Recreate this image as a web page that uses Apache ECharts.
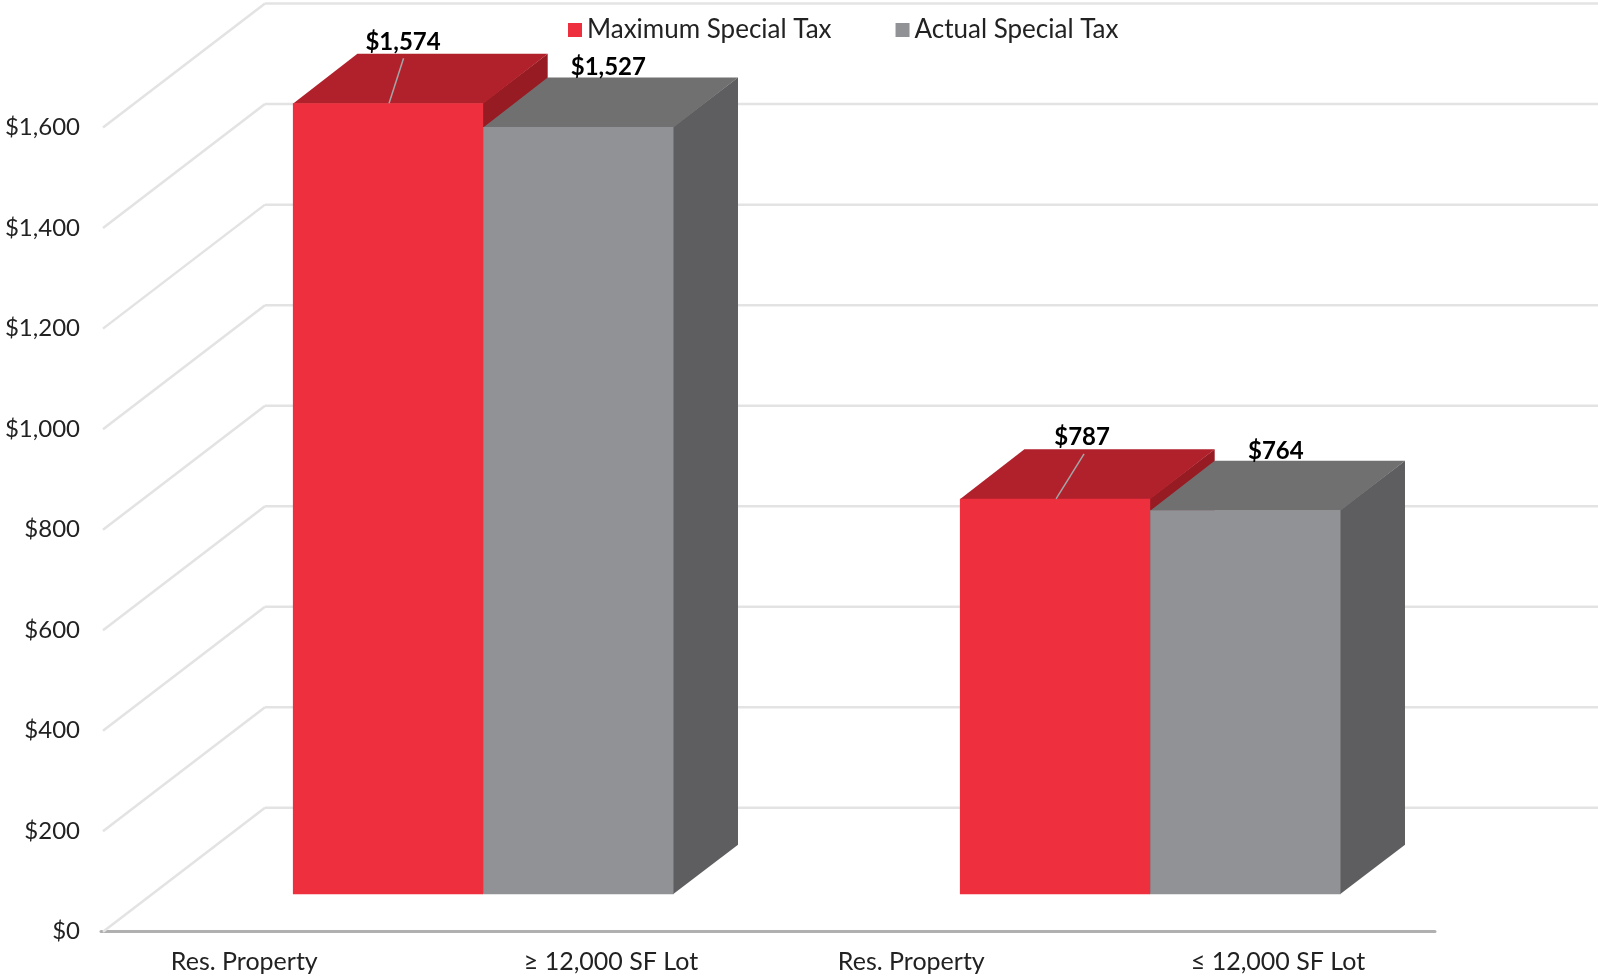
<!DOCTYPE html>
<html><head><meta charset="utf-8">
<style>html,body{margin:0;padding:0;background:#fff}#c{width:1598px;height:977px}</style>
<script src="https://cdn.jsdelivr.net/npm/echarts@6/dist/echarts.min.js"></script>
</head><body><div id="c"></div>
<script>
const categories = ['Res. Property|≥ 12,000 SF Lot', 'Res. Property|≤ 12,000 SF Lot'];
const seriesNames = ['Maximum Special Tax', 'Actual Special Tax'];
const maximumTax = [1574, 787];
const actualTax = [1527, 764];
const tickValues = [0, 200, 400, 600, 800, 1000, 1200, 1400, 1600];

const FONT = 'Lato, "Open Sans", sans-serif';
const WALL = {dx: 164, dy: -124};
const OFFSET = {dx: 48.7, dy: -37.4};
const DEPTH = {dx: 64.5, dy: -49.5};
const BAR_FRAC = 0.2853;
const COLORS = [
  {front: '#EE2F3D', top: '#B1212B', side: '#971B23', leader: [14.5, 28], lx: [15, 27], ly: -61.5},
  {front: '#919295', top: '#707071', side: '#5E5E60', lx: [30, 30.5], ly: -59.5}
];
const money = v => '$' + v.toLocaleString('en-US');

function poly(points, fill) {
  return {type: 'polygon', shape: {points}, style: {fill}};
}
function barRenderer(s) {
  return function (params, api) {
    const c = COLORS[s], i = api.value(0), v = api.value(1);
    const base = api.coord([i, 0]), top = api.coord([i, v]);
    const w = api.size([1, 0])[0] * BAR_FRAC;
    const x0 = base[0] + OFFSET.dx + (s === 0 ? -w : 0), x1 = x0 + w;
    const yb = base[1] + OFFSET.dy, yt = top[1] + OFFSET.dy;
    const dx = DEPTH.dx, dy = DEPTH.dy;
    const children = [
      poly([[x1 - 0.5, yt], [x1 + dx, yt + dy], [x1 + dx, yb + dy], [x1 - 0.5, yb]], c.side),
      poly([[x0, yt + 0.5], [x0 + dx, yt + dy], [x1 + dx, yt + dy], [x1, yt + 0.5]], c.top),
      poly([[x0, yt], [x1, yt], [x1, yb], [x0, yb]], c.front)
    ];
    const mid = (x0 + x1) / 2;
    if (c.leader) {
      children.push({type: 'line', shape: {x1: mid + 1, y1: yt, x2: mid + 1 + c.leader[i], y2: yt - 45},
        style: {stroke: '#A3A5A8', lineWidth: 1.5}});
    }
    children.push({type: 'text', style: {x: mid + c.lx[i], y: yt + c.ly, text: money(v),
      fill: '#000', font: 'bold 24px ' + FONT, align: 'center', verticalAlign: 'middle'}});
    return {type: 'group', children};
  };
}
function wallRenderer(params, api) {
  const v = api.value(0), r = params.coordSys;
  const y = api.coord([0, v])[1];
  const left = r.x, right = r.x + r.width;
  const line = (a, b, c, d) => ({type: 'line', shape: {x1: a, y1: b, x2: c, y2: d},
    style: {stroke: '#E3E3E3', lineWidth: 2.5}});
  return {type: 'group', children: [
    line(left + 2, y, left + WALL.dx, y + WALL.dy),
    line(left + WALL.dx, y + WALL.dy, right + WALL.dx, y + WALL.dy)
  ]};
}

const chart = echarts.init(document.getElementById('c'));
chart.setOption({
  animation: false,
  backgroundColor: '#fff',
  textStyle: {fontFamily: FONT},
  grid: {left: 101, right: 163, top: 127.6, bottom: 45.3, containLabel: false},
  legend: {
    data: seriesNames, left: 563, top: 12, icon: 'rect', itemWidth: 14, itemHeight: 14,
    itemGap: 64, itemStyle: {}, selectedMode: false,
    textStyle: {fontFamily: FONT, fontSize: 26, color: '#222'}
  },
  xAxis: {
    type: 'category', data: categories,
    axisLine: {lineStyle: {color: '#B0B0B0', width: 3}}, axisTick: {show: false},
    axisLabel: {
      margin: 18, interval: 0,
      formatter: v => { const p = v.split('|'); return '{t|' + p[0] + '}{g| }{t|' + p[1] + '}'; },
      rich: {t: {fontFamily: FONT, fontSize: 25, color: '#222'}, g: {width: 206, fontSize: 25}}
    }
  },
  yAxis: {
    type: 'value', min: 0, max: 1600, interval: 200,
    axisLine: {show: false}, axisTick: {show: false}, splitLine: {show: false},
    axisLabel: {margin: 21, fontFamily: FONT, fontSize: 24, color: '#222', formatter: money, padding: [3, 0, 0, 0]}
  },
  series: [
    {type: 'custom', name: 'wall', silent: true, z: 1, data: tickValues.map(v => [v]),
     encode: {y: 0}, renderItem: wallRenderer, clip: false},
    {type: 'custom', name: seriesNames[0], z: 2, itemStyle: {color: COLORS[0].front},
     data: maximumTax.map((v, i) => [i, v]), encode: {x: 0, y: 1}, renderItem: barRenderer(0), clip: false},
    {type: 'custom', name: seriesNames[1], z: 3, itemStyle: {color: COLORS[1].front},
     data: actualTax.map((v, i) => [i, v]), encode: {x: 0, y: 1}, renderItem: barRenderer(1), clip: false}
  ]
});
</script></body></html>
